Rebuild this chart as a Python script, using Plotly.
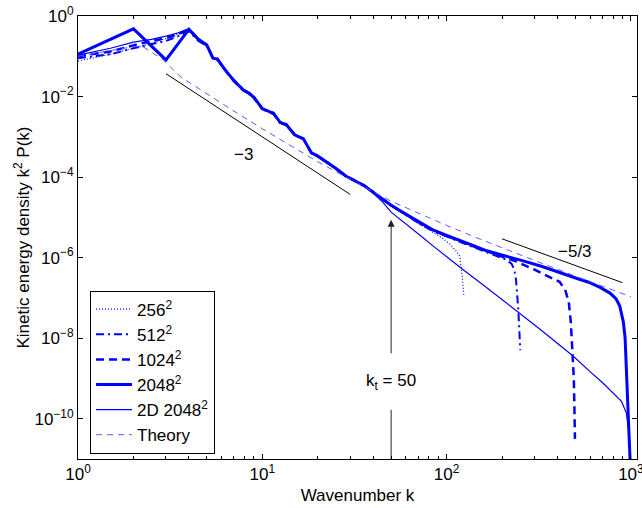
import numpy as np
import plotly.graph_objects as go

# ---------------- data (log10 of k^2 P(k)) ----------------
k_256 = [1, 1.5, 2, 2.5, 3, 3.5, 4, 4.5, 5, 5.4, 5.7, 6.4, 7, 7.9, 8.5, 9, 10, 11.5, 12.5, 13.5,
         15, 16.7, 18.5, 20, 22.5, 25, 28.5, 32, 36, 40, 45, 50, 60, 72, 85, 95, 104, 112, 118, 120, 122, 124]
log_e_256 = [-1.12, -0.95, -0.80, -0.68, -0.56, -0.45, -0.36, -0.60, -0.75, -1.02, -1.10, -1.36, -1.62, -1.86,
             -1.95, -2.04, -2.28, -2.44, -2.62, -2.72, -2.93, -3.07, -3.38, -3.47, -3.62, -3.80, -4.00, -4.12,
             -4.24, -4.40, -4.56, -4.72, -4.95, -5.18, -5.38, -5.52, -5.66, -5.82, -5.97, -6.20, -6.55, -6.95]

k_512 = [1, 1.5, 2, 2.5, 3, 3.5, 4, 4.5, 5, 5.4, 5.7, 6.4, 7, 7.9, 8.5, 9, 10, 11.5, 12.5, 13.5,
         15, 16.7, 18.5, 20, 22.5, 25, 28.5, 32, 36, 40, 45, 50, 60, 72, 85, 100, 120, 140, 165, 190,
         210, 225, 233, 238, 242, 245, 248, 251]
log_e_512 = [-1.05, -0.95, -0.80, -0.70, -0.62, -0.50, -0.38, -0.62, -0.74, -1.06, -1.08, -1.40, -1.58, -1.82,
             -1.93, -2.00, -2.32, -2.40, -2.66, -2.68, -2.97, -3.04, -3.42, -3.46, -3.64, -3.77, -3.99, -4.11,
             -4.23, -4.39, -4.56, -4.71, -4.93, -5.17, -5.34, -5.48, -5.62, -5.74, -5.87, -5.98, -6.05, -6.15,
             -6.30, -6.55, -6.90, -7.30, -7.80, -8.30]

k_1024 = [1, 1.5, 2, 2.5, 3, 3.5, 4, 4.5, 5, 5.4, 5.7, 6.4, 7, 7.9, 8.5, 9, 10, 11.5, 12.5, 13.5,
          15, 16.7, 18.5, 20, 22.5, 25, 28.5, 32, 36, 40, 45, 50, 60, 72, 85, 100, 120, 140, 165,
          200, 240, 300, 360, 410, 440, 460, 472, 482, 490, 494, 497]
log_e_1024 = [-1.00, -0.88, -0.73, -0.62, -0.55, -0.45, -0.34, -0.59, -0.73, -1.04, -1.06, -1.39, -1.61, -1.85,
              -1.91, -2.03, -2.31, -2.43, -2.65, -2.71, -2.96, -3.04, -3.41, -3.48, -3.63, -3.79, -3.98, -4.09,
              -4.22, -4.37, -4.55, -4.70, -4.92, -5.15, -5.33, -5.46, -5.60, -5.72, -5.84,
              -5.97, -6.10, -6.30, -6.47, -6.60, -6.80, -7.10, -7.60, -8.30, -9.00, -9.80, -10.50]

k_2048 = [1, 2, 3, 4, 4.5, 5, 5.4, 5.7, 6.4, 7, 7.9, 8.5, 9, 10, 11.5, 12.5, 13.5, 15, 16.7, 18.5,
          20, 22.5, 25, 28.5, 32, 36, 40, 45, 50, 60, 72, 85, 100, 120, 140, 165,
          200, 260, 330, 390, 450, 520, 590, 680, 770, 830, 870, 910, 930, 945, 960, 976, 993]
log_e_2048 = [-0.95, -0.32, -1.09, -0.33, -0.58, -0.72, -1.05, -1.07, -1.38, -1.60, -1.84, -1.92, -2.02, -2.30,
              -2.42, -2.64, -2.70, -2.95, -3.05, -3.40, -3.48, -3.63, -3.78, -3.98, -4.10, -4.22, -4.38, -4.55,
              -4.70, -4.92, -5.14, -5.32, -5.45, -5.58, -5.70, -5.83,
              -5.93, -6.08, -6.22, -6.34, -6.44, -6.53, -6.61, -6.74, -6.88, -7.02, -7.20, -7.60, -8.00,
              -8.90, -9.60, -10.30, -11.20]

k_2d = [1, 1.5, 2, 2.5, 3, 3.5, 4, 4.5, 5, 5.4, 5.7, 6.4, 7, 7.9, 8.5, 9, 10, 11.5, 12.5, 13.5,
        15, 16.7, 18.5, 20, 22.5, 25, 28.5, 32, 36, 40, 45, 50, 60, 72, 85, 100, 123, 160, 200, 250,
        320, 400, 487, 600, 700, 800, 889, 945, 970, 985, 995]
log_e_2d = [-0.97, -0.80, -0.65, -0.58, -0.50, -0.42, -0.31, -0.57, -0.70, -1.03, -1.09, -1.37, -1.62, -1.83,
            -1.94, -2.01, -2.29, -2.44, -2.63, -2.72, -2.94, -3.06, -3.39, -3.49, -3.62, -3.79, -3.99, -4.11,
            -4.23, -4.40, -4.62, -4.87, -5.15, -5.45, -5.72, -5.98, -6.30, -6.70, -7.04, -7.38,
            -7.77, -8.13, -8.45, -8.83, -9.10, -9.36, -9.57, -9.86, -10.25, -10.70, -11.30]

k_theory = [1, 1.5, 2, 2.25, 2.9, 3.6, 5, 7, 10, 14, 20, 30, 50, 70, 100, 150, 200, 300, 500, 700, 1000]
log_e_theory = [-1.00, -0.86, -0.76, -0.76, -1.09, -1.51, -1.94, -2.36, -2.80, -3.20, -3.62, -4.06, -4.60,
                -4.89, -5.20, -5.53, -5.76, -6.07, -6.46, -6.70, -6.97]

# reference slopes
k_slope3 = [3, 30]
e_slope3 = [3.7e-2, 3.7e-5]
k_slope53 = [200, 900]
e_slope53 = [2.93e-6, 2.39e-7]

# annotation values
k_t = 50
log_arrow_tip = -5.06
log_arrow_upper_start = -8.41
log_arrow_lower = [-9.78, -11.0]
log_text_kt = -9.1

x_tickvals = [1, 10, 100, 1000]
x_ticktext = ["10<sup>0</sup>", "10<sup>1</sup>", "10<sup>2</sup>", "10<sup>3</sup>"]
x_minor = [2, 3, 4, 5, 6, 7, 8, 9, 20, 30, 40, 50, 60, 70, 80, 90, 200, 300, 400, 500, 600, 700, 800, 900]
y_tickvals = [1, 1e-2, 1e-4, 1e-6, 1e-8, 1e-10]
y_ticktext = ["10<sup>0</sup>", "10<sup>\u22122</sup>", "10<sup>\u22124</sup>", "10<sup>\u22126</sup>",
              "10<sup>\u22128</sup>", "10<sup>\u221210</sup>"]

for a, b in [(k_256, log_e_256), (k_512, log_e_512), (k_1024, log_e_1024), (k_2048, log_e_2048),
             (k_2d, log_e_2d), (k_theory, log_e_theory)]:
    assert len(a) == len(b), (len(a), len(b))

BLUE = "#0000ff"
THEORY = "#5a5aff"
FONT = "Liberation Sans, Arial, Helvetica, sans-serif"
FS = 17

fig = go.Figure()

series = [
    ("256<sup>2</sup>", k_256, log_e_256, dict(color=BLUE, width=1.2, dash="1px,2px")),
    ("512<sup>2</sup>", k_512, log_e_512, dict(color=BLUE, width=2, dash="8px,4px,2px,4px")),
    ("1024<sup>2</sup>", k_1024, log_e_1024, dict(color=BLUE, width=2.5, dash="8px,5px")),
    ("2048<sup>2</sup>", k_2048, log_e_2048, dict(color=BLUE, width=3)),
    ("2D 2048<sup>2</sup>", k_2d, log_e_2d, dict(color=BLUE, width=1.2)),
    ("Theory", k_theory, log_e_theory, dict(color=THEORY, width=1, dash="6px,5px")),
]
for i, (name, kk, ee, line) in enumerate(series):
    fig.add_trace(go.Scatter(x=kk, y=[10.0 ** v for v in ee], mode="lines", name=name, line=line,
                             legendrank=i + 1, legendgroup=str(i)))

fig.add_trace(go.Scatter(x=k_slope3, y=e_slope3, mode="lines", line=dict(color="black", width=1),
                         showlegend=False))
fig.add_trace(go.Scatter(x=k_slope53, y=e_slope53, mode="lines", line=dict(color="black", width=1),
                         showlegend=False))
fig.add_trace(go.Scatter(x=[k_t, k_t], y=[10.0 ** v for v in log_arrow_lower], mode="lines",
                         line=dict(color="#222", width=1), showlegend=False))

fig.add_annotation(x=np.log10(k_t), y=log_arrow_tip, ax=np.log10(k_t), ay=log_arrow_upper_start,
                   xref="x", yref="y", axref="x", ayref="y", text="", showarrow=True,
                   arrowhead=2, arrowsize=1.4, arrowwidth=1, arrowcolor="#222", standoff=0)
fig.add_annotation(x=np.log10(k_t), y=log_text_kt, text="k<sub>t</sub> = 50", showarrow=False,
                   font=dict(size=FS, color="black", family=FONT))
fig.add_annotation(x=np.log10(7.86), y=-3.45, text="\u22123", showarrow=False,
                   font=dict(size=FS, color="black", family=FONT))
fig.add_annotation(x=np.log10(497), y=-5.85, text="\u22125/3", showarrow=False,
                   font=dict(size=FS, color="black", family=FONT))

axis_common = dict(type="log", showline=True, linecolor="black", linewidth=1, mirror="ticks",
                   ticks="inside", ticklen=5, tickcolor="black", showgrid=False, zeroline=False,
                   tickfont=dict(size=FS, color="black", family=FONT), tickmode="array",
                   automargin=False, ticklabeloverflow="allow")

fig.update_xaxes(range=[0, 3.033], tickvals=x_tickvals, ticktext=x_ticktext,
                 minor=dict(tickvals=x_minor, ticks="inside", ticklen=3, tickcolor="black", showgrid=False),
                 title=dict(text="Wavenumber k", font=dict(size=FS, color="black", family=FONT), standoff=5),
                 **axis_common)
fig.update_yaxes(range=[-11, 0], tickvals=y_tickvals, ticktext=y_ticktext,
                 title=dict(text="Kinetic energy density k<sup>2</sup> P(k)",
                            font=dict(size=FS, color="black", family=FONT), standoff=0),
                 **axis_common)

fig.update_layout(
    width=642, height=508,
    margin=dict(l=78, r=5, t=16, b=49),
    plot_bgcolor="white", paper_bgcolor="white",
    font=dict(family=FONT, size=FS, color="black"),
    legend=dict(x=0.0215, y=0.38, xanchor="left", yanchor="top", bordercolor="black", borderwidth=1,
                bgcolor="white", font=dict(size=FS, family=FONT, color="black"), tracegroupgap=0,
                itemwidth=36),
)

# remove the browser's default 8px body margin so the 642x508 figure fills the window exactly
fig.write_html("out.html", config={"displayModeBar": False},
               post_script="document.body.style.margin='0';")
